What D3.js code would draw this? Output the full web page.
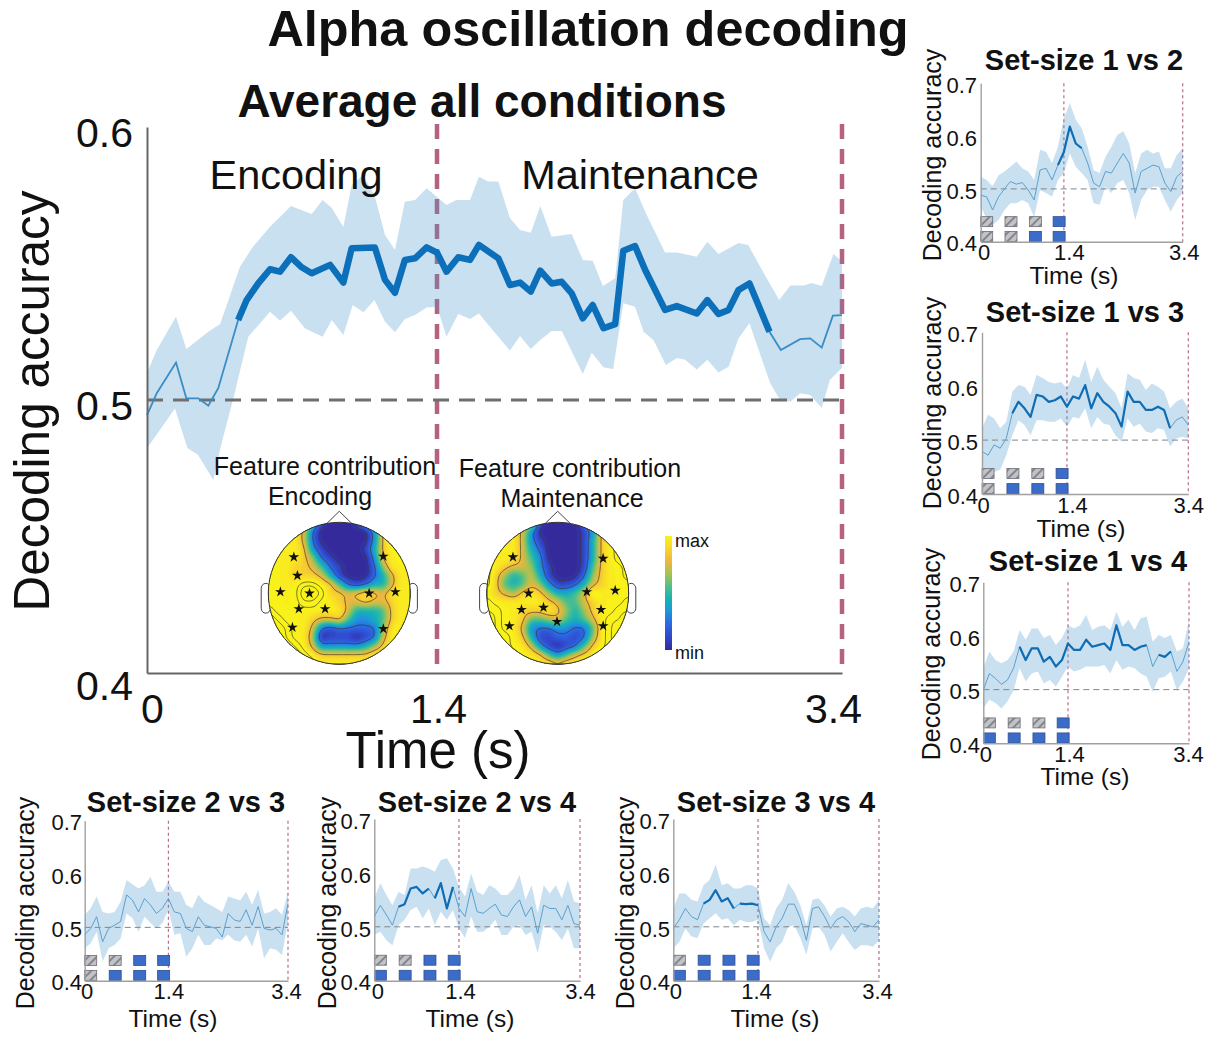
<!DOCTYPE html>
<html>
<head>
<meta charset="utf-8">
<script src="https://cdn.jsdelivr.net/npm/d3@7"></script>
<style>
  body { margin: 0; background: white; }
  text { font-family: "Liberation Sans", Arial, sans-serif; fill: #111; }
</style>
</head>
<body>
<div id="chart"></div>
<script>
// main plot (time in s, decoding accuracy)
const mainMeanT = [0, .047, .14, .19, .248, .296, .344, .44, .481, .537, .594, .642, .695, .747, .795, .884, .948, .988, 1.1, 1.149, 1.197, 1.245, 1.294, 1.35, 1.4, 1.447, 1.505, 1.563, 1.607, 1.703, 1.76, 1.81, 1.863, 1.91, 1.966, 2.016, 2.065, 2.12, 2.169, 2.222, 2.28, 2.32, 2.378, 2.428, 2.526, 2.584, 2.683, 2.735, 2.79, 2.84, 2.889, 2.943, 3.042, 3.098, 3.193, 3.243, 3.3, 3.355, 3.4];
const mainMean = [.4945, .5025, .5137, .5006, .5006, .4979, .5043, .5293, .5366, .5427, .5479, .547, .5523, .5486, .5464, .5495, .543, .5556, .5559, .544, .5393, .5513, .5519, .5559, .554, .547, .5523, .5513, .5568, .5519, .5421, .543, .5397, .5474, .5427, .5433, .5391, .5299, .5348, .5263, .5278, .5547, .5564, .5476, .533, .5344, .5317, .5366, .5315, .533, .5403, .5427, .525, .5183, .5223, .5226, .5192, .5309, .5311];
const mainUpperT = [0, .047, .14, .19, .296, .353, .449, .512, .594, .695, .795, .848, .892, .948, .988, 1.043, 1.1, 1.149, 1.197, 1.245, 1.294, 1.35, 1.447, 1.495, 1.563, 1.607, 1.652, 1.703, 1.76, 1.81, 1.863, 1.91, 1.966, 2.065, 2.12, 2.169, 2.219, 2.28, 2.32, 2.378, 2.428, 2.526, 2.584, 2.683, 2.735, 2.79, 2.889, 2.937, 3.005, 3.09, 3.145, 3.21, 3.25, 3.3, 3.358, 3.4];
const mainUpper = [.5099, .5183, .5305, .5187, .525, .5278, .5488, .5562, .5635, .5711, .5681, .5733, .5703, .5634, .5788, .5824, .5745, .5604, .5549, .5726, .5733, .5776, .5714, .5733, .5733, .5818, .58, .58, .5667, .5623, .5613, .5711, .5598, .5608, .5513, .551, .5418, .5446, .5733, .5776, .569, .554, .554, .5525, .558, .5535, .5575, .5568, .5476, .5366, .5419, .5419, .5429, .5418, .5535, .5507];
const mainLowerT = [0, .135, .195, .246, .32, .36, .415, .489, .594, .642, .695, .763, .848, .892, .948, .993, 1.045, 1.098, 1.149, 1.197, 1.245, 1.294, 1.35, 1.4, 1.447, 1.505, 1.563, 1.607, 1.66, 1.76, 1.81, 1.863, 1.91, 1.966, 2.016, 2.12, 2.164, 2.222, 2.27, 2.32, 2.378, 2.42, 2.469, 2.53, 2.584, 2.625, 2.683, 2.735, 2.79, 2.84, 2.889, 2.943, 3.045, 3.094, 3.145, 3.193, 3.243, 3.3, 3.34, 3.4];
const mainLower = [.4823, .4969, .4824, .4799, .4707, .4842, .5, .5232, .5323, .529, .5327, .5262, .5232, .5293, .5238, .5348, .5321, .5366, .5287, .5248, .5297, .5311, .5339, .5342, .5232, .5315, .5297, .5317, .5269, .5181, .5234, .5187, .522, .5253, .5253, .5095, .5173, .512, .5114, .5354, .5342, .525, .522, .5128, .5154, .5147, .5112, .5147, .5101, .5122, .5226, .5281, .5062, .5, .4994, .5025, .5018, .4971, .5073, .5117];
const mainThick = [.44, 3.042];
const mainYTicks = [.4, .5, .6];
const xTicks = [0, 1.4, 3.4];

// small panels share a 0.1 s time grid
const gridT = d3.range(35).map(i => i / 10);
const smallYTicks = [.4, .5, .6, .7];

const mean12 = [.488, .485, .46, .485, .5, .514, .509, .512, .498, .479, .536, .539, .517, .545, .57, .618, .586, .577, .549, .511, .504, .533, .53, .549, .567, .549, .492, .533, .539, .545, .542, .511, .495, .523, .533];
const upper12 = [.523, .517, .505, .526, .533, .542, .552, .539, .533, .517, .574, .57, .549, .58, .634, .662, .631, .615, .58, .536, .53, .561, .58, .602, .609, .586, .53, .567, .574, .567, .571, .539, .539, .564, .577];
const lower12 = [.466, .444, .432, .441, .46, .473, .473, .479, .473, .447, .498, .492, .485, .517, .53, .567, .542, .53, .517, .473, .47, .504, .492, .511, .517, .492, .441, .479, .498, .504, .504, .479, .457, .479, .492];
const thick12 = [[1.3, 1.7]];

const mean13 = [.479, .472, .491, .485, .503, .55, .571, .559, .543, .584, .581, .571, .574, .581, .562, .581, .577, .602, .559, .587, .571, .562, .55, .525, .59, .571, .571, .556, .556, .562, .556, .522, .537, .543, .528];
const upper13 = [.522, .547, .54, .522, .534, .59, .602, .599, .584, .621, .615, .608, .605, .608, .596, .621, .615, .649, .608, .636, .612, .599, .587, .559, .624, .615, .612, .593, .605, .599, .59, .559, .571, .577, .559];
const lower13 = [.435, .429, .441, .445, .472, .509, .537, .528, .509, .537, .537, .534, .534, .54, .525, .543, .54, .559, .522, .543, .531, .528, .509, .497, .54, .525, .531, .516, .513, .522, .519, .488, .503, .506, .503];
const thick13 = [[.5, 3.1]];

const mean14 = [.499, .53, .521, .51, .518, .54, .58, .555, .577, .577, .552, .561, .543, .555, .586, .574, .574, .593, .58, .583, .586, .574, .62, .583, .583, .574, .58, .583, .543, .565, .561, .571, .534, .552, .589];
const upper14 = [.54, .571, .555, .549, .555, .571, .611, .593, .614, .614, .596, .602, .583, .596, .62, .614, .62, .639, .611, .617, .62, .611, .645, .617, .63, .611, .633, .636, .589, .602, .596, .602, .571, .577, .63];
const lower14 = [.465, .481, .475, .465, .478, .499, .54, .515, .53, .534, .512, .518, .506, .524, .543, .534, .537, .543, .543, .543, .546, .53, .555, .537, .543, .54, .53, .524, .496, .521, .524, .534, .499, .515, .54];
const thick14 = [[.6, 2.7], [2.9, 3.1]];

const mean23 = [.486, .498, .52, .473, .498, .504, .511, .561, .551, .529, .554, .542, .526, .536, .554, .529, .526, .498, .492, .52, .504, .501, .498, .482, .526, .514, .511, .533, .504, .539, .498, .495, .498, .486, .545];
const upper23 = [.523, .536, .558, .529, .526, .529, .548, .589, .581, .573, .579, .595, .567, .567, .586, .567, .567, .542, .536, .561, .548, .542, .536, .529, .558, .554, .551, .567, .542, .57, .526, .529, .536, .523, .567];
const lower23 = [.461, .47, .492, .436, .461, .467, .479, .526, .517, .492, .52, .508, .498, .508, .533, .486, .489, .445, .461, .486, .467, .467, .479, .476, .486, .476, .473, .486, .464, .498, .442, .461, .458, .448, .511];
const thick23 = [];

const mean24 = [.519, .54, .522, .503, .537, .542, .571, .574, .562, .571, .553, .581, .534, .574, .534, .519, .571, .528, .525, .534, .542, .522, .519, .537, .55, .519, .537, .488, .54, .534, .534, .513, .54, .506, .503];
const upper24 = [.553, .581, .559, .54, .565, .559, .608, .608, .612, .608, .602, .624, .627, .608, .574, .556, .599, .565, .559, .577, .571, .559, .559, .571, .596, .55, .577, .525, .577, .562, .577, .553, .587, .547, .543];
const lower24 = [.485, .491, .475, .466, .503, .513, .531, .537, .516, .534, .503, .528, .513, .531, .497, .479, .519, .491, .491, .5, .513, .485, .485, .5, .503, .485, .491, .451, .503, .5, .491, .475, .497, .46, .46];
const thick24 = [[.4, .9], [1, 1.3]];

const mean34 = [.497, .513, .534, .519, .513, .543, .55, .568, .547, .553, .534, .543, .542, .543, .54, .491, .472, .5, .516, .542, .542, .516, .475, .534, .537, .519, .497, .513, .519, .509, .491, .506, .503, .5, .513];
const upper34 = [.534, .562, .562, .55, .547, .577, .587, .615, .577, .581, .571, .571, .577, .577, .571, .516, .503, .534, .55, .581, .565, .54, .503, .55, .553, .54, .519, .534, .537, .531, .519, .534, .537, .534, .55];
const lower34 = [.46, .472, .497, .482, .479, .506, .516, .525, .513, .516, .503, .513, .509, .509, .513, .46, .435, .46, .472, .5, .503, .479, .448, .497, .5, .485, .454, .472, .488, .472, .457, .466, .466, .463, .475];
const thick34 = [[.5, 1], [1.1, 1.4]];

// load icons, G = grey hatched, B = blue
const iconCols = [.1, .51, .92, 1.32];
const iconRowVals = [.438, .41];

// topographies, hex digit per site (0 = min, 9 and above = max)
const topoEncoding = ["9999951000148abbb", "99997200000038abb", "99997200000038abb", "999983100001489ab", "9999862100003899a", "99988752100026999", "99988874100024799", "9999aa98521244799", "9999bba8878987999", "9999aa99877877899", "a9999999974445899", "ba999877853345899", "bba99721222226999", "cba99601110127999", "ccba9733333468999", "cccba988888899999", "ccccba99999999999"];
const topoMaintenance = ["99999810000279abb", "999973000001389ab", "999973100001489ab", "999974200001489ab", "999975300001489ab", "a987763100015899a", "a864574100026899a", "a8545763112478999", "987689864457a9999", "a999999875578999a", "aa9988898646899aa", "ba998556754579aab", "ba997322332259abb", "baa98411221269abb", "cba99731012589abc", "ccba998535789abcc", "cccba999899aabccc"];
const starsEncoding = [[-.64, -.51], [-.59, -.25], [-.83, -.02], [-.42, 0], [-.57, .22], [-.2, .22], [-.66, .48], [.42, 0], [.79, -.02], [.62, -.52], [.62, .5]];
const starsMaintenance = [[-.63, -.51], [.64, -.49], [-.41, 0], [.41, -.02], [.81, -.04], [-.51, .23], [-.2, .2], [.61, .23], [-.68, .46], [-.01, .4], [.64, .46]];
const topoLevels = [0, 1, 2, 3, 4, 5, 6, 7, 8, 9];
const topoColors = ["#352a9c", "#3146c8", "#2c66e4", "#1f93dc", "#17b2b4", "#4fbf8c", "#a6c252", "#edb63f", "#f8d52c", "#f9f21a"];

// layout
const width = 1212, height = 1037;
const svg = d3.select("#chart").append("svg")
    .attr("width", width)
    .attr("height", height)
    .style("display", "block");

const defs = svg.append("defs");
const hatch = defs.append("pattern")
    .attr("id", "hatch")
    .attr("patternUnits", "userSpaceOnUse")
    .attr("width", 6).attr("height", 6)
    .attr("patternTransform", "rotate(45)");
hatch.append("rect").attr("width", 6).attr("height", 6).attr("fill", "#c2c3c8");
hatch.append("rect").attr("width", 2).attr("height", 6).attr("fill", "#85868c");

const bandColor = "#4b98cd";

function bandPath(x, y, upT, up, loT, lo) {
    let pts = up.map((v, i) => [x(upT[i]), y(v)]);
    let back = lo.map((v, i) => [x(loT[i]), y(v)]).reverse();
    return d3.line()(pts.concat(back));
}

function meanPath(x, y, t, vals, from, to) {
    let pts = [];
    vals.forEach((v, i) => {
        if (t[i] >= from - 1e-6 && t[i] <= to + 1e-6) pts.push([x(t[i]), y(v)]);
    });
    return d3.line()(pts);
}

function label(g, txt, x, y, size, opts) {
    opts = opts || {};
    let t = g.append("text")
        .attr("x", x).attr("y", y)
        .attr("text-anchor", "middle")
        .style("font-size", size + "px")
        .style("font-weight", opts.bold ? "bold" : "normal")
        .text(txt);
    if (opts.rotate) t.attr("transform", "rotate(-90," + x + "," + y + ")");
    return t;
}

// ---- main plot
const mainX = d3.scaleLinear().domain([0, 1.4, 3.4]).range([147, 437, 842]);
const mainY = d3.scaleLinear().domain([.4, .6]).range([673, 127]);
const mg = svg.append("g");

mg.selectAll(".vline").data([1.4, 3.4]).enter().append("line")
    .attr("x1", d => mainX(d)).attr("x2", d => mainX(d))
    .attr("y1", 124).attr("y2", 673)
    .attr("stroke", "#b5617f").attr("stroke-width", 4.5)
    .attr("stroke-dasharray", "15 10");

mg.append("path")
    .attr("d", bandPath(mainX, mainY, mainUpperT, mainUpper, mainLowerT, mainLower))
    .attr("fill", bandColor).attr("fill-opacity", .3);

mg.append("line")
    .attr("x1", mainX(0)).attr("x2", mainX(3.4))
    .attr("y1", mainY(.5)).attr("y2", mainY(.5))
    .attr("stroke", "#6f6f6f").attr("stroke-width", 2.8)
    .attr("stroke-dasharray", "16 10");

mg.append("path")
    .attr("d", meanPath(mainX, mainY, mainMeanT, mainMean, 0, 3.4))
    .attr("fill", "none").attr("stroke", "#3a8cc4").attr("stroke-width", 1.8);
mg.append("path")
    .attr("d", meanPath(mainX, mainY, mainMeanT, mainMean, mainThick[0], mainThick[1]))
    .attr("fill", "none").attr("stroke", "#0b6fba").attr("stroke-width", 6.5)
    .attr("stroke-linejoin", "round");

const mainYAxis = mg.append("g")
    .attr("transform", "translate(147,0)")
    .call(d3.axisLeft(mainY).tickValues(mainYTicks).tickFormat(d3.format(".1f")).tickSize(0).tickPadding(14));
const mainXAxis = mg.append("g")
    .attr("transform", "translate(0,673)")
    .call(d3.axisBottom(mainX).tickValues(xTicks).tickFormat(d => d === 0 ? "0" : d3.format(".1f")(d)).tickSize(0).tickPadding(21));
[mainYAxis, mainXAxis].forEach(a => {
    a.select(".domain").attr("stroke", "#666").attr("stroke-width", 2);
    a.selectAll("text").style("font-size", "41px").style("font-family", '"Liberation Sans", Arial, sans-serif').attr("fill", "#111");
});
mainYAxis.selectAll("text").attr("dy", d => d === .4 ? "0.65em" : "0.47em");
mainXAxis.selectAll("text").attr("dx", d => d === 0 ? 5 : d === 3.4 ? -9 : 1);

label(svg, "Alpha oscillation decoding", 588, 46, 50.4, { bold: true });
label(svg, "Average all conditions", 482, 117, 46, { bold: true });
label(svg, "Encoding", 296, 189, 41.5);
label(svg, "Maintenance", 640, 189, 41.5);
label(svg, "Decoding accuracy", 49, 401, 49.5, { rotate: true });
label(svg, "Time (s)", 438, 768, 51);
label(svg, "Feature contribution", 325, 475, 25);
label(svg, "Encoding", 320, 505, 25);
label(svg, "Feature contribution", 570, 477, 25);
label(svg, "Maintenance", 572, 507, 25);

// ---- scalp maps
const topoColor = d3.scaleLinear().domain(topoLevels).range(topoColors).clamp(true);

function drawTopo(grid, stars, cx, cy, r, id) {
    let rows = grid.map(s => s.split("").map(c => parseInt(c, 16)));
    let n0 = rows.length, up = 8, N = (n0 - 1) * up + 1;
    let vals = new Float64Array(N * N);
    for (let j = 0; j < N; j++) {
        for (let i = 0; i < N; i++) {
            let fx = i / up, fy = j / up;
            let ix = Math.min(Math.floor(fx), n0 - 2), iy = Math.min(Math.floor(fy), n0 - 2);
            let ax = fx - ix, ay = fy - iy;
            vals[j * N + i] = rows[iy][ix] * (1 - ax) * (1 - ay) + rows[iy][ix + 1] * ax * (1 - ay)
                + rows[iy + 1][ix] * (1 - ax) * ay + rows[iy + 1][ix + 1] * ax * ay;
        }
    }
    d3.blur2({ data: vals, width: N, height: N }, 2);

    let px = d3.scaleLinear().domain([0, N]).range([cx - r, cx + r]);
    let py = d3.scaleLinear().domain([0, N]).range([cy - r, cy + r]);
    let path = d3.geoPath(d3.geoTransform({
        point: function(x, y) { this.stream.point(px(x), py(y)); }
    }));

    let g = svg.append("g");
    // ears and nose
    [-1, 1].forEach(side => {
        g.append("rect")
            .attr("x", side < 0 ? cx - r * 1.1 : cx + r * .97)
            .attr("y", cy - r * .14)
            .attr("width", r * .13).attr("height", r * .42).attr("rx", 5)
            .attr("fill", "white").attr("stroke", "#444").attr("stroke-width", 1);
    });
    g.append("path")
        .attr("d", d3.line()([[cx - r * .18, cy - r * .98], [cx, cy - r * 1.155], [cx + r * .18, cy - r * .98]]))
        .attr("fill", "white").attr("stroke", "#444").attr("stroke-width", 1);

    defs.append("clipPath").attr("id", id).append("circle").attr("cx", cx).attr("cy", cy).attr("r", r);
    let inner = g.append("g").attr("clip-path", "url(#" + id + ")");
    inner.append("circle").attr("cx", cx).attr("cy", cy).attr("r", r).attr("fill", topoColors[0]);

    let fills = d3.contours().size([N, N]).thresholds(d3.range(.25, 9.01, .25))(vals);
    inner.selectAll(".band").data(fills).enter().append("path")
        .attr("d", path)
        .attr("fill", d => topoColor(d.value));

    let lines = d3.contours().size([N, N]).thresholds([.6, 2.4, 7.4, 9.4, 10.1, 10.9, 11.6])(vals);
    inner.selectAll(".iso").data(lines).enter().append("path")
        .attr("d", path)
        .attr("fill", "none").attr("stroke", "#3a3a2a").attr("stroke-width", .7);

    g.append("circle").attr("cx", cx).attr("cy", cy).attr("r", r)
        .attr("fill", "none").attr("stroke", "#333").attr("stroke-width", 1);

    g.selectAll(".star").data(stars).enter().append("path")
        .attr("d", d3.symbol().type(d3.symbolStar).size(36))
        .attr("transform", d => "translate(" + (cx + d[0] * r) + "," + (cy + d[1] * r) + ")")
        .attr("fill", "#111");
}

drawTopo(topoEncoding, starsEncoding, 339.3, 593.3, 71, "headA");
drawTopo(topoMaintenance, starsMaintenance, 557.7, 593.3, 71, "headB");

// colour bar
const cbar = defs.append("linearGradient")
    .attr("id", "cbar").attr("x1", "0%").attr("y1", "100%").attr("x2", "0%").attr("y2", "0%");
cbar.selectAll("stop").data(topoLevels).enter().append("stop")
    .attr("offset", d => d / 9)
    .attr("stop-color", d => topoColor(d));
svg.append("rect").attr("x", 665).attr("y", 536).attr("width", 7).attr("height", 114)
    .attr("fill", "url(#cbar)");
svg.append("text").attr("x", 675).attr("y", 547).style("font-size", "18px").text("max");
svg.append("text").attr("x", 675).attr("y", 659).style("font-size", "18px").text("min");

// ---- small panels
function drawPanel(p) {
    let x = d3.scaleLinear().domain([0, 3.4]).range([p.x0, p.x1]);
    let y = d3.scaleLinear().domain([.4, .7]).range([p.yBot, p.yTop]);
    let g = svg.append("g");

    g.selectAll(".vline").data([1.4, 3.4]).enter().append("line")
        .attr("x1", d => x(d)).attr("x2", d => x(d))
        .attr("y1", p.yTop).attr("y2", p.yBot)
        .attr("stroke", "#bb6d88").attr("stroke-width", 1.2)
        .attr("stroke-dasharray", "3 3");

    g.append("path")
        .attr("d", bandPath(x, y, gridT, p.upper, gridT, p.lower))
        .attr("fill", bandColor).attr("fill-opacity", .3);

    g.append("line")
        .attr("x1", x(0)).attr("x2", x(3.4))
        .attr("y1", y(.5)).attr("y2", y(.5))
        .attr("stroke", "#80868c").attr("stroke-width", 1)
        .attr("stroke-dasharray", "6 4");

    g.append("path")
        .attr("d", meanPath(x, y, gridT, p.mean, 0, 3.4))
        .attr("fill", "none").attr("stroke", "#5ba0cf").attr("stroke-width", 1);
    p.thick.forEach(r => {
        g.append("path")
            .attr("d", meanPath(x, y, gridT, p.mean, r[0], r[1]))
            .attr("fill", "none").attr("stroke", "#0f6db5").attr("stroke-width", 2.2)
            .attr("stroke-linejoin", "round");
    });

    // load icons
    p.icons.forEach((row, j) => {
        row.split("").forEach((c, i) => {
            g.append("rect")
                .attr("x", Math.max(x(iconCols[i]) - 6, p.x0))
                .attr("y", y(iconRowVals[j]) - 5)
                .attr("width", 12).attr("height", 10)
                .attr("fill", c === "B" ? "#3c6cc9" : "url(#hatch)")
                .attr("stroke", c === "B" ? "#2f4f8f" : "#6c6d75")
                .attr("stroke-width", .8);
        });
    });

    let ya = g.append("g").attr("transform", "translate(" + p.x0 + ",0)")
        .call(d3.axisLeft(y).tickValues(smallYTicks).tickFormat(d3.format(".1f")).tickSize(0).tickPadding(p.x0 - p.tickRight));
    let xa = g.append("g").attr("transform", "translate(0," + p.yBot + ")")
        .call(d3.axisBottom(x).tickValues(xTicks).tickFormat(d => d === 0 ? "0" : d3.format(".1f")(d)).tickSize(0).tickPadding(3));
    [ya, xa].forEach(a => {
        a.select(".domain").attr("stroke", "#a0a0a0").attr("stroke-width", 1.4);
        a.selectAll("text").style("font-size", "22px").style("font-family", '"Liberation Sans", Arial, sans-serif').attr("fill", "#111");
    });
    ya.selectAll("text").attr("dy", ".42em");
    xa.selectAll("text").attr("dx", (d, i) => p.xDx[i]);

    label(g, p.title, p.titleX, p.titleY, 29, { bold: true });
    label(g, "Decoding accuracy", p.labelX, p.labelY, 25, { rotate: true });
    label(g, "Time (s)", p.timeX, p.timeY, 24.5);
}

const panels = [
    { title: "Set-size 1 vs 2", mean: mean12, upper: upper12, lower: lower12, thick: thick12, icons: ["GGGB", "GGBB"],
      x0: 980.7, x1: 1182.7, yTop: 83.3, yBot: 241.7, tickRight: 977, xDx: [3, 5, 1], titleX: 1084, titleY: 70, labelX: 941, labelY: 155, timeX: 1074, timeY: 284 },
    { title: "Set-size 1 vs 3", mean: mean13, upper: upper13, lower: lower13, thick: thick13, icons: ["GGGB", "GBBB"],
      x0: 982, x1: 1188.3, yTop: 332.3, yBot: 494, tickRight: 978, xDx: [1, 5, 0], titleX: 1085, titleY: 322, labelX: 941, labelY: 403, timeX: 1081, timeY: 537 },
    { title: "Set-size 1 vs 4", mean: mean14, upper: upper14, lower: lower14, thick: thick14, icons: ["GGGB", "BBBB"],
      x0: 983.3, x1: 1189, yTop: 582.3, yBot: 743.3, tickRight: 980, xDx: [2, 1, -1], titleX: 1088, titleY: 571, labelX: 940, labelY: 654, timeX: 1085, timeY: 785 },
    { title: "Set-size 2 vs 3", mean: mean23, upper: upper23, lower: lower23, thick: thick23, icons: ["GGBB", "GBBB"],
      x0: 84.7, x1: 288, yTop: 820.7, yBot: 980.7, tickRight: 82, xDx: [2, 0, -2], titleX: 186, titleY: 812, labelX: 34, labelY: 903, timeX: 173, timeY: 1027 },
    { title: "Set-size 2 vs 4", mean: mean24, upper: upper24, lower: lower24, thick: thick24, icons: ["GGBB", "BBBB"],
      x0: 374.3, x1: 580, yTop: 819, yBot: 980.7, tickRight: 371, xDx: [3, 1, 0], titleX: 477, titleY: 812, labelX: 336, labelY: 903, timeX: 470, timeY: 1027 },
    { title: "Set-size 3 vs 4", mean: mean34, upper: upper34, lower: lower34, thick: thick34, icons: ["GBBB", "BBBB"],
      x0: 673.3, x1: 879, yTop: 819, yBot: 980.7, tickRight: 670, xDx: [2, -2, -2], titleX: 776, titleY: 812, labelX: 634, labelY: 903, timeX: 775, timeY: 1027 }
];

panels.forEach(drawPanel);
</script>
</body>
</html>
